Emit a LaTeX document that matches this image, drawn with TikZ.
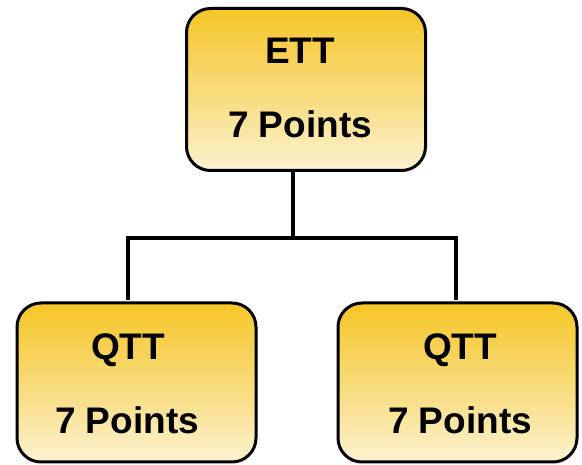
\documentclass[tikz,border=0pt]{standalone}
\usepackage{fontspec}
\setmainfont{Liberation Sans}
\definecolor{goldtop}{RGB}{246,198,40}
\definecolor{goldmid}{RGB}{248,218,120}
\definecolor{goldbot}{RGB}{253,242,208}
\begin{document}
\begin{tikzpicture}[x=1pt,y=-1pt,
  card/.style={draw=black, line width=3pt, rounded corners=24pt,
    top color=goldtop, bottom color=goldbot, middle color=goldmid,
    minimum width=239pt, minimum height=162pt, inner sep=0pt, outer sep=0pt},
  label/.style={font=\fontsize{37pt}{37pt}\selectfont\bfseries, anchor=base, inner sep=0pt},
  conn/.style={draw=black, line width=3.6pt, line join=miter}]
\useasboundingbox (0,0) rectangle (582,465);

% boxes
\node[card] (ett) at (306,89.5) {};
\node[card, minimum height=159pt] (qttl) at (136.5,382.5) {};
\node[card, minimum height=159pt] (qttr) at (457.5,382.5) {};

% texts
\node[label] (ettname) at (300,64) {ETT};
\node[label] (ettpts) at (300,138) {7 Points};
\node[label] (qlname) at (128,360) {QTT};
\node[label] (qlpts) at (127,434) {7 Points};
\node[label] (qrname) at (460,360) {QTT};
\node[label] (qrpts) at (460,434) {7 Points};

% connector junctions
\coordinate (jm) at (293,238);
\coordinate (jl) at (128,238);
\coordinate (jr) at (456,238);

\draw[conn] (ett.south -| jm) -- (jm);
\draw[conn, shorten <=3pt, shorten >=3pt] (qttl.north -| jl) -- (jl) -- (jr) -- (qttr.north -| jr);
\end{tikzpicture}
\end{document}
